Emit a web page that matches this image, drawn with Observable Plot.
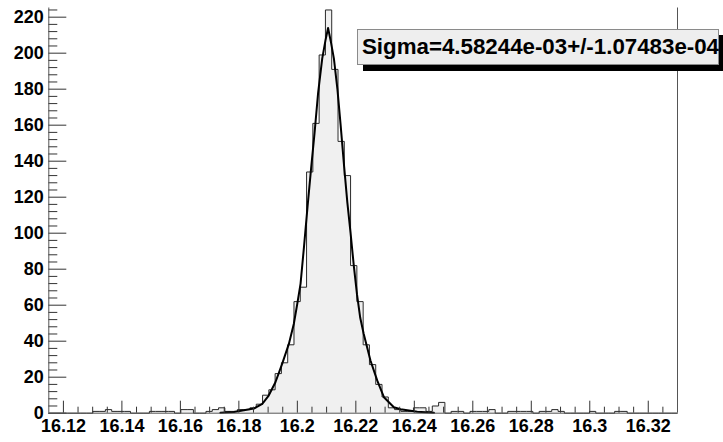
<!DOCTYPE html>
<html><head><meta charset="utf-8">
<script src="https://cdn.jsdelivr.net/npm/d3@7"></script>
<script src="https://cdn.jsdelivr.net/npm/@observablehq/plot@0.6"></script>
<style>
body{margin:0;background:#fff;}
#wrap{position:relative;width:723px;height:442px;overflow:hidden;}
#stats{position:absolute;left:357px;top:29px;width:362px;height:36px;box-sizing:border-box;background:#eeeeee;border:1px solid #8a8a8a;box-shadow:6px 6px 0 #000;font:bold 22.3px "Liberation Sans",Arial,sans-serif;line-height:34px;padding-left:4px;white-space:nowrap;color:#000;}
</style></head><body><div id="wrap"></div>
<script>
// histogram: 100 bins from 16.115 to 16.33
const binStart = 16.115;
const binWidth = 0.00215;
const counts = [
  0,0,0,0,0,0,0,1,1,2,
  1,1,1,0,0,0,1,1,1,1,
  0,2,2,0,0,1,2,3,1,1,
  2,2,3,5,10,13,22,28,38,62,
  70,134,161,199,224,191,151,132,82,62,
  38,27,16,9,3,2,1,1,3,3,
  1,4,6,0,1,1,0,1,1,1,
  2,0,0,1,1,1,1,0,1,1,
  2,1,0,0,0,0,1,0,0,0,
  1,1,0,0,0,0,0,0,0,0
];
// fit curve
const fitX = [16.1737,16.1783,16.1851,16.1880,16.1902,16.1925,16.1948,16.1971,16.1988,16.2000,
  16.2011,16.2023,16.2035,16.2047,16.2059,16.2071,16.2085,16.2096,16.2105,16.2115,
  16.2125,16.2137,16.2148,16.2160,16.2171,16.2182,16.2193,16.2204,16.2215,16.2227,
  16.2250,16.2273,16.2296,16.2330,16.2353,16.2410,16.2467];
const fitY = [0.2,0.7,2.6,5.2,9.8,17.2,27.4,38.5,49.7,61,
  72,93,115,136,156,178,197,207,214,206,
  197,180,160,137,117,100,82,66,53,44,
  29.3,18.2,8.9,3.3,2.2,0.8,0.2];
const xTicks = [16.12,16.14,16.16,16.18,16.2,16.22,16.24,16.26,16.28,16.3,16.32];
const xLabels = ["16.12","16.14","16.16","16.18","16.2","16.22","16.24","16.26","16.28","16.3","16.32"];
const yTicks = [0,20,40,60,80,100,120,140,160,180,200,220];
const yLabels = ["0","20","40","60","80","100","120","140","160","180","200","220"];
const statsText = "Sigma=4.58244e-03+/-1.07483e-04";

const xDomain = [16.115, 16.33];
const yDomain = [0, 225.1];
const W = 723, H = 442;
const mL = 48.3, mR = 46, mT = 7.5, mB = 29.3;
const plotW = W - mL - mR, plotH = H - mT - mB;

const xMinor = d3.range(0, 43).map(i => +(16.12 + i*0.005).toFixed(3)).filter(v => v < 16.33 && !xTicks.some(t => Math.abs(t - v) < 1e-9));
const yMinor = d3.range(1, 57).map(i => i*4).filter(v => v % 20 !== 0 && v < 225);

const step = counts.map((c, i) => ({x: binStart + i*binWidth, y: c}));
step.push({x: binStart + counts.length*binWidth, y: counts[counts.length-1]});
const fit = fitX.map((x, i) => ({x, y: fitY[i]}));

const font = "Liberation Sans, Arial, sans-serif";
const axisColor = "#555";

const chart = Plot.plot({
  width: W, height: H,
  marginLeft: mL, marginRight: mR, marginTop: mT, marginBottom: mB,
  x: {domain: xDomain, axis: null},
  y: {domain: yDomain, axis: null},
  style: {background: "#fff", fontFamily: font},
  marks: [
    Plot.areaY(step, {x: "x", y: "y", curve: "step-after", fill: "#f0f0f0"}),
    Plot.line(step, {x: "x", y: "y", curve: "step-after", stroke: "#2a2a2a", strokeWidth: 1}),
    Plot.line(fit, {x: "x", y: "y", stroke: "#000", strokeWidth: 2}),
    // x ticks (drawn inside, upward)
    Plot.tickX(xTicks, {x: d => d, insetTop: plotH - 12, stroke: "#333"}),
    Plot.tickX(xMinor, {x: d => d, insetTop: plotH - 6, stroke: "#333"}),
    // y ticks (drawn inside, rightward)
    Plot.tickY(yTicks, {y: d => d, insetRight: plotW - 18, stroke: "#333"}),
    Plot.tickY(yMinor, {y: d => d, insetRight: plotW - 9, stroke: "#333"}),
    // frame
    Plot.ruleY([0], {stroke: axisColor}),
    Plot.ruleX([xDomain[0], xDomain[1]], {stroke: axisColor}),
    // labels
    Plot.text(xTicks, {x: d => d, text: (d, i) => xLabels[i], frameAnchor: "bottom", dy: 19,
      fontSize: 18, fontWeight: "bold", fill: "#000", fontFamily: font}),
    Plot.text(yTicks, {y: d => d, text: (d, i) => yLabels[i], frameAnchor: "left", dx: -5, textAnchor: "end",
      fontSize: 18, fontWeight: "bold", fill: "#000", fontFamily: font})
  ]
});
const wrap = document.getElementById("wrap");
wrap.appendChild(chart);
const box = document.createElement("div");
box.id = "stats";
box.textContent = statsText;
wrap.appendChild(box);
</script>
</body></html>
